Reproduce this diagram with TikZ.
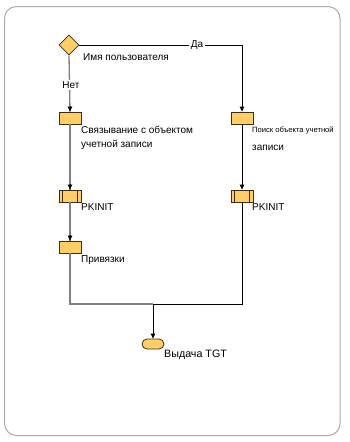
\documentclass[tikz,border=0pt]{standalone}
\usepackage{fontspec}
\setmainfont{Liberation Sans}
\usetikzlibrary{arrows.meta,shapes.geometric,calc}
\definecolor{boxfill}{RGB}{255,206,102}
\definecolor{boxdraw}{RGB}{60,45,20}
\definecolor{framegray}{RGB}{170,170,170}
\definecolor{linegray}{RGB}{128,128,128}
\begin{document}
\begin{tikzpicture}[x=1pt,y=-1pt,
  actbox/.style={draw=boxdraw,fill=boxfill,line width=0.8pt,minimum width=22pt,minimum height=12pt,inner sep=0pt},
  procbox/.style={actbox},
  decis/.style={draw=boxdraw,fill=boxfill,line width=0.8pt,diamond,minimum width=20pt,minimum height=20pt,inner sep=0pt},
  termbox/.style={draw=boxdraw,fill=boxfill,line width=0.8pt,rounded corners=5pt,minimum width=22pt,minimum height=10pt,inner sep=0pt},
  lbl/.style={font=\fontsize{10}{13.5}\selectfont,inner sep=0pt,anchor=north west,align=left},
  edgelbl/.style={font=\fontsize{10}{11}\selectfont,fill=white,inner sep=1.5pt},
  tip/.style={-{Triangle[length=5pt,width=4.5pt]}},
  gline/.style={draw=linegray,line width=1.3pt},
  bline/.style={draw=black,line width=0.9pt}]
\useasboundingbox (0,0) rectangle (350,442);
\draw[framegray,line width=1pt,rounded corners=12pt] (4.5,6.5) rectangle (340,435.5);
% nodes
\node[decis] (dia) at (69,45) {};
\node[actbox] (b1) at (70,118) {};
\node[actbox] (b2) at (242,118) {};
\node[procbox] (p1) at (70,196) {};
\node[procbox] (p2) at (242,196) {};
\node[actbox] (pr) at (70,247) {};
\node[termbox] (ov) at (153,344) {};
\foreach \n in {p1,p2}{
  \draw[boxdraw,line width=0.8pt] ($(\n.north west)+(4,0)$) -- ($(\n.south west)+(4,0)$);
  \draw[boxdraw,line width=0.8pt] ($(\n.north east)+(-4,0)$) -- ($(\n.south east)+(-4,0)$);
}
% labels
\node[lbl] (l0) at (83,53.5) {Имя пользователя};
\node[lbl] (l1) at (81,126) {Связывание с объектом\\учетной записи};
\node[lbl,align=left] (l2) at (252,127) {{\fontsize{7.6}{8}\selectfont Поиск объекта учетной}\\[4pt]записи};
\node[lbl] (l3) at (81,203) {PKINIT};
\node[lbl] (l4) at (252,203) {PKINIT};
\node[lbl] (l5) at (81,255) {Привязки};
\node[lbl,font=\fontsize{10.7}{12}\selectfont] (l6) at (164,350) {Выдача TGT};
% connectors
\coordinate (c1) at (b2.north |- dia.east);
\coordinate (j) at (153,304);
\path[bline,tip] (dia.east) -- (c1) -- (b2.north);
\node[edgelbl] (yes) at (197,45) {Да};
\path[gline] (dia.south) -- (b1.north);
\draw[black,tip,line width=0.9pt] ($(b1.north)+(0,-6)$) -- (b1.north);
\node[edgelbl] (no) at (71,85) {Нет};
\path[gline] (b1.south) -- (p1.north);
\draw[black,tip,line width=0.9pt] ($(p1.north)+(0,-6)$) -- (p1.north);
\path[gline] (p1.south) -- (pr.north);
\draw[black,tip,line width=0.9pt] ($(pr.north)+(0,-6)$) -- (pr.north);
\path[bline,tip] (b2.south) -- (p2.north);
\path[gline] (pr.south) |- (j);
\path[bline] (p2.south) |- (j);
\path[bline,tip] (j) -- (ov.north);
\end{tikzpicture}
\end{document}
